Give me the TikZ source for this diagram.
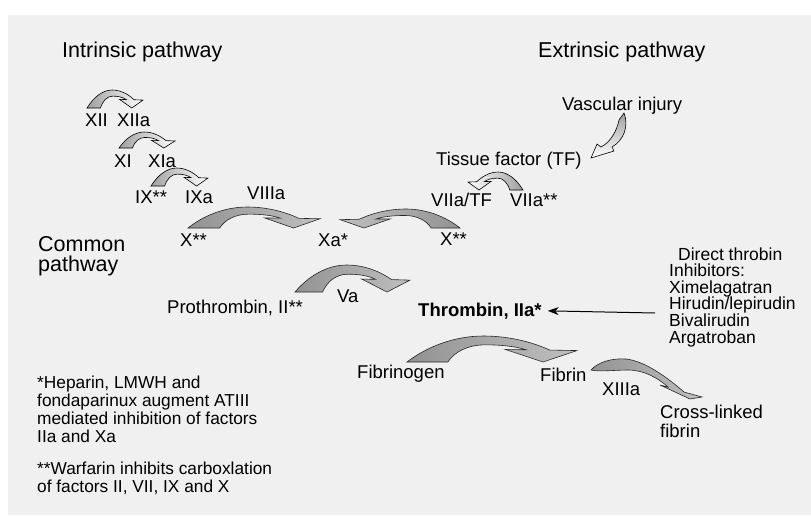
\documentclass[tikz,border=0pt]{standalone}
\usepackage{fontspec}
\setmainfont{Liberation Sans}
\usetikzlibrary{arrows.meta}

\tikzset{
  lbl/.style={anchor=base west, inner sep=0pt, font=\fontsize{18.5}{19}\selectfont},
  heading/.style={lbl, font=\fontsize{21.5}{19.5}\selectfont},
  note/.style={lbl, align=left, font=\fontsize{17.3}{18}\selectfont},
  bigarr/.style={draw=black!85, line width=0.6pt, left color=gray!85, right color=gray!50},
  bigarrL/.style={draw=black!85, line width=0.6pt, left color=gray!50, right color=gray!85},
  smallarr/.style={draw=black, line width=0.6pt, left color=gray!75, right color=white},
  smallarrL/.style={draw=black, line width=0.6pt, left color=white, right color=gray!75}
}

% curved ribbon arrow: x, bottom y, width (negative = leftwards), height, style
\newcommand{\ribbon}[5]{%
  \begin{scope}[shift={(#1,#2)},xscale=#3,yscale=-#4]
    \path[#5] (0,0) .. controls (0.12,0.6) and (0.28,1) .. (0.45,1)
      .. controls (0.62,1) and (0.76,0.7) .. (0.84,0.46)
      -- (1,0.44) -- (0.8,0) -- (0.58,0.48) -- (0.7,0.47)
      .. controls (0.64,0.6) and (0.56,0.66) .. (0.46,0.66)
      .. controls (0.36,0.66) and (0.28,0.4) .. (0.24,0) -- cycle;
  \end{scope}}

\begin{document}
\begin{tikzpicture}[x=1pt,y=-1pt]
\useasboundingbox (0,0) rectangle (811,515);
\fill[gray!12] (8,15) rectangle (811,515);

% headings
\node[heading] (intr) at (62,57) {Intrinsic pathway};
\node[heading] (extr) at (538,57) {Extrinsic pathway};
\node[heading, align=left] (common) at (38,271) {Common\\pathway};

% intrinsic cascade
\node[lbl] (f12) at (85,126) {XII};
\node[lbl] (f12a) at (117,126) {XIIa};
\node[lbl] (f11) at (114,167) {XI};
\node[lbl] (f11a) at (148,167) {XIa};
\node[lbl] (f9) at (135,203) {IX**};
\node[lbl] (f9a) at (185,203) {IXa};
\node[lbl] (f8a) at (247,199) {VIIIa};
\ribbon{87}{108}{56}{18}{smallarr}
\ribbon{119}{148}{56}{16}{smallarr}
\ribbon{151}{186}{57}{18}{smallarr}

% extrinsic cascade
\node[lbl] (vasc) at (562,110) {Vascular injury};
\node[lbl] (tf) at (436,165) {Tissue factor (TF)};
\node[lbl] (f7tf) at (431,206) {VIIa/TF};
\node[lbl] (f7a) at (510,206) {VIIa**};
\path[draw=black, line width=0.6pt, top color=gray!75, bottom color=white]
  (624,113) .. controls (629,126) and (624,140) .. (612,147)
  -- (614,151) -- (591,158) -- (597,144) -- (601,147)
  .. controls (611,142) and (617,130) .. (619,120) -- cycle;
\ribbon{523}{190}{-55}{18}{smallarrL}

% common pathway
\node[lbl] (f10) at (180,246) {X**};
\node[lbl] (f10a) at (318,246) {Xa*};
\node[lbl] (f10b) at (440,245) {X**};
\ribbon{188}{228}{132}{21}{bigarr}
\ribbon{460}{228}{-120}{19}{bigarrL}

\node[lbl] (proth) at (167,313) {Prothrombin, II**};
\node[lbl] (f5a) at (337,302) {Va};
\node[lbl, font=\fontsize{18.5}{19}\selectfont\bfseries] (thr) at (418,316) {Thrombin, IIa*};
\ribbon{295}{292}{115}{27}{bigarr}

\node[lbl] (fbg) at (357,378) {Fibrinogen};
\node[lbl] (fbn) at (540,381) {Fibrin};
\node[lbl] (f13a) at (602,395) {XIIIa};
\node[lbl, align=left] (xfbn) at (660,437) {Cross-linked\\fibrin};
\ribbon{407}{362}{170}{26}{bigarr}
\path[bigarr] (591,370)
  .. controls (598,362) and (612,358) .. (626,359)
  .. controls (645,361) and (668,378) .. (684,392)
  -- (702,397) -- (690,399) -- (660,385) -- (668,387)
  .. controls (658,378) and (644,370) .. (628,370)
  .. controls (615,370) and (600,372) .. (591,370) -- cycle;

% direct thrombin inhibitors
\node[note, font=\fontsize{17.5}{16.6}\selectfont] (dti) at (669,343)
  {\hspace*{9pt}Direct throbin\\Inhibitors:\\Ximelagatran\\Hirudin/lepirudin\\Bivalirudin\\Argatroban};
\coordinate (dtiend) at (655,313);
\draw[-{Stealth[length=11pt,width=8pt]}, line width=1pt, shorten >=6pt] (dtiend) -- (thr.east);

% footnotes
\node[note] (hep) at (37,442) {*Heparin, LMWH and\\fondaparinux augment ATIII\\mediated inhibition of factors\\IIa and Xa};
\node[note] (warf) at (37,492) {**Warfarin inhibits carboxlation\\of factors II, VII, IX and X};
\end{tikzpicture}
\end{document}
